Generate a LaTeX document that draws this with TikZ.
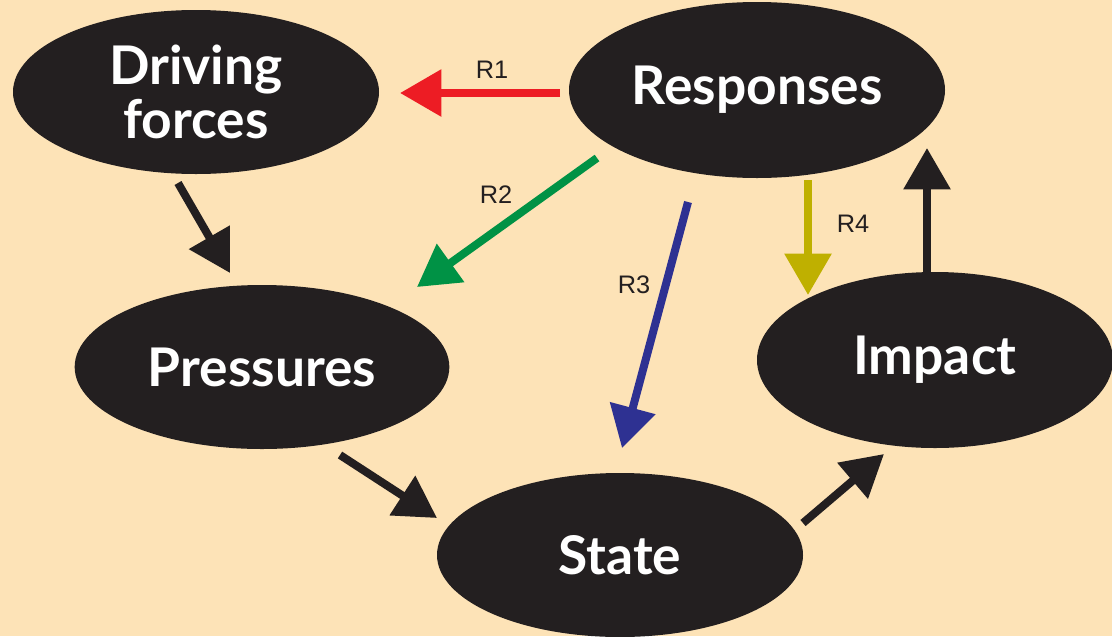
\documentclass[tikz,border=0pt]{standalone}
\usepackage{fontspec}
\setmainfont{Lato}
\newfontfamily\labelfont{Liberation Sans}
\usetikzlibrary{arrows.meta,shapes.geometric}
\definecolor{bg}{HTML}{FDE3B7}
\definecolor{blob}{HTML}{231F20}
\definecolor{rred}{HTML}{ED1C24}
\definecolor{rgreen}{HTML}{009245}
\definecolor{rblue}{HTML}{2E3192}
\definecolor{rolive}{HTML}{BFB000}
\tikzset{
  blobnode/.style={ellipse, fill=blob, text=white, inner sep=0pt,
    font=\fontsize{40}{41}\selectfont\bfseries, align=center},
  arr/.style={line width=6pt, -{Triangle[length=31pt,width=34pt]}},
  rlabel/.style={font=\labelfont\fontsize{19}{20}\selectfont, text=blob},
}
\begin{document}
\begin{tikzpicture}[x=0.75pt,y=-0.75pt]
\fill[bg] (0,0) rectangle (1112,636);
\useasboundingbox (0,0) rectangle (1112,636);

\node[blobnode, minimum width=274.5pt, minimum height=123pt] (df) at (196,92) {Driving\\forces};
\node[blobnode, minimum width=282pt, minimum height=132pt] (resp) at (757,90) {Responses};
\node[blobnode, minimum width=281pt, minimum height=123pt] (pres) at (262,367) {Pressures};
\node[blobnode, minimum width=267pt, minimum height=132pt] (imp) at (935,360) {Impact};
\node[blobnode, minimum width=274.5pt, minimum height=123pt] (state) at (620,555) {State};

% endpoints
\coordinate (r1s) at (560,93);   \coordinate (r1e) at (400,93);
\coordinate (r2s) at (597,158);  \coordinate (r2e) at (417,287);
\coordinate (r3s) at (688,202);  \coordinate (r3e) at (622,448);
\coordinate (r4s) at (808,180);  \coordinate (r4e) at (808,295);
\coordinate (ius) at (927,275);  \coordinate (iue) at (927,148);
\coordinate (dps) at (178,183);  \coordinate (dpe) at (230,273);
\coordinate (pss) at (340,455);  \coordinate (pse) at (437,518);
\coordinate (sis) at (803,523);  \coordinate (sie) at (884,454);

\draw[arr, rred] (r1s) -- (r1e);
\draw[arr, rgreen] (r2s) -- (r2e);
\draw[arr, rblue] (r3s) -- (r3e);
\draw[arr, rolive] (r4s) -- (r4e);
\draw[arr, blob] (ius) -- (iue);
\draw[arr, blob] (dps) -- (dpe);
\draw[arr, blob] (pss) -- (pse);
\draw[arr, blob] (sis) -- (sie);

\node[rlabel] (l1) at (492,70) {R1};
\node[rlabel] (l2) at (496,195) {R2};
\node[rlabel] (l3) at (634,285) {R3};
\node[rlabel] (l4) at (853,224) {R4};
\end{tikzpicture}
\end{document}
